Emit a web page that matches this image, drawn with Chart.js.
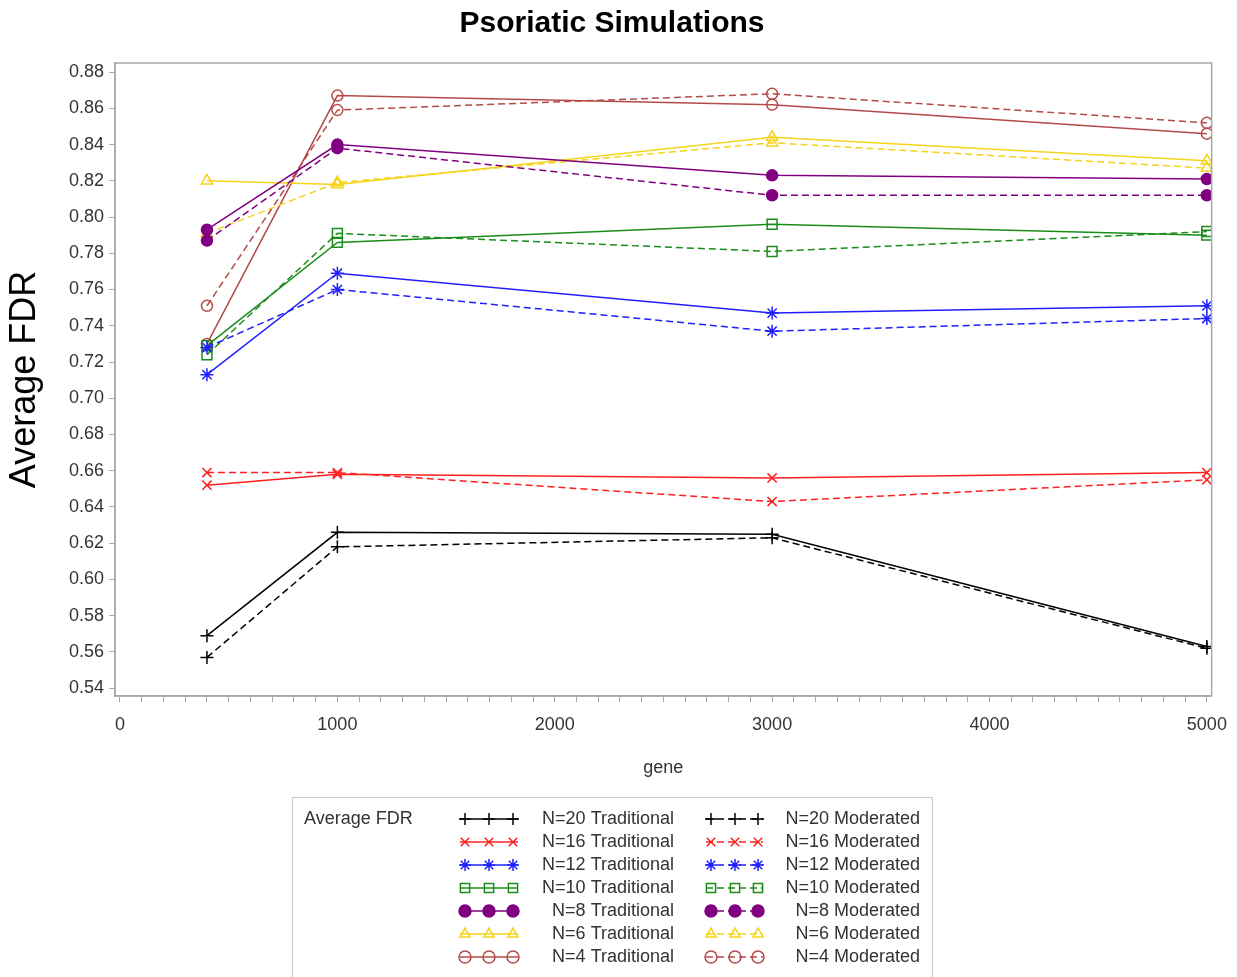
<!DOCTYPE html>
<html><head><meta charset="utf-8">
<script src="https://cdn.jsdelivr.net/npm/chart.js@4.4.1/dist/chart.umd.min.js"></script>
<style>html,body{margin:0;padding:0;background:#fff}canvas{display:block}</style>
</head><body>
<canvas id="c" width="1237" height="977"></canvas>
<script>
// ---- data ----
const genes = [400, 1000, 3000, 5000];
const n20Traditional = [0.569, 0.626, 0.625, 0.563];
const n20Moderated   = [0.557, 0.618, 0.623, 0.562];
const n16Traditional = [0.652, 0.658, 0.656, 0.659];
const n16Moderated   = [0.659, 0.659, 0.643, 0.655];
const n12Traditional = [0.713, 0.769, 0.747, 0.751];
const n12Moderated   = [0.728, 0.760, 0.737, 0.744];
const n10Traditional = [0.729, 0.786, 0.796, 0.790];
const n10Moderated   = [0.724, 0.791, 0.781, 0.792];
const n8Traditional  = [0.793, 0.840, 0.823, 0.821];
const n8Moderated    = [0.787, 0.838, 0.812, 0.812];
const n6Traditional  = [0.820, 0.818, 0.844, 0.831];
const n6Moderated    = [0.791, 0.819, 0.841, 0.827];
const n4Traditional  = [0.730, 0.867, 0.862, 0.846];
const n4Moderated    = [0.751, 0.859, 0.868, 0.852];
const xMajorTicks = [0, 1000, 2000, 3000, 4000, 5000];
const yTicks = [0.54,0.56,0.58,0.60,0.62,0.64,0.66,0.68,0.70,0.72,0.74,0.76,0.78,0.80,0.82,0.84,0.86,0.88];
const groupLabels = ['N=20','N=16','N=12','N=10','N=8','N=6','N=4'];

// ---- styles ----
const FONT = 'Arial, "Liberation Sans", Helvetica, sans-serif';
const TEXT = '#333333';
const AXIS = '#a4a9ae';
const groups = [
  {trad:n20Traditional, mod:n20Moderated, color:'#000000', style:'cross', r:6.5, fill:'#000000'},
  {trad:n16Traditional, mod:n16Moderated, color:'#ff1f1f', style:'crossRot', r:6.5, fill:'#ff1f1f'},
  {trad:n12Traditional, mod:n12Moderated, color:'#1f1fff', style:'star', r:6.5, fill:'#1f1fff'},
  {trad:n10Traditional, mod:n10Moderated, color:'#1a8c1a', style:'rect', r:7, fill:'rgba(0,0,0,0)'},
  {trad:n8Traditional,  mod:n8Moderated,  color:'#800080', style:'circle', r:5.5, fill:'#800080'},
  {trad:n6Traditional,  mod:n6Moderated,  color:'#f5d31a', style:'triangle', r:6.5, fill:'rgba(0,0,0,0)'},
  {trad:n4Traditional,  mod:n4Moderated,  color:'#b24a48', style:'circle', r:5.5, fill:'rgba(0,0,0,0)'}
];
const DASH = [7,4];

const datasets = [];
groups.forEach((g, i) => {
  [['trad', 'Traditional', []], ['mod', 'Moderated', DASH]].forEach(([key, name, dash]) => {
    datasets.push({
      label: groupLabels[i] + ' ' + name,
      kind: key,
      data: genes.map((x, j) => ({x: x, y: g[key][j]})),
      borderColor: g.color,
      backgroundColor: g.fill,
      pointBackgroundColor: g.fill,
      pointBorderColor: g.color,
      pointStyle: g.style,
      pointRadius: g.r,
      pointBorderWidth: 1.5,
      borderWidth: 1.5,
      borderDash: dash,
      tension: 0,
      fill: false
    });
  });
});

const minorTicks = [];
for (let v = 0; v <= 5000; v += 100) minorTicks.push(v);

function drawMarker(ctx, style, x, y, r) {
  if (Chart.helpers && Chart.helpers.drawPoint) {
    Chart.helpers.drawPoint(ctx, {pointStyle: style, radius: r, borderWidth: 1.5, rotation: 0}, x, y);
    return;
  }
  ctx.beginPath(); ctx.arc(x, y, r, 0, Math.PI*2); ctx.fill(); ctx.stroke();
}

const framePlugin = {
  id: 'frame',
  afterDraw(chart) {
    const {ctx, chartArea: a} = chart;
    ctx.save();
    ctx.strokeStyle = AXIS; ctx.lineWidth = 1.5;
    ctx.strokeRect(a.left, a.top, a.right - a.left, a.bottom - a.top);
    ctx.restore();
  }
};

const legendPlugin = {
  id: 'sasLegend',
  afterDraw(chart) {
    const ctx = chart.ctx;
    ctx.save();
    ctx.strokeStyle = '#c8c8c8'; ctx.lineWidth = 1;
    ctx.strokeRect(292.5, 797.5, 640, 200);
    ctx.font = '18px ' + FONT;
    ctx.fillStyle = TEXT;
    ctx.textBaseline = 'middle';
    ctx.textAlign = 'left';
    ctx.fillText('Average FDR', 304, 819);
    const ds = chart.data.datasets;
    const cols = [
      {kind:'trad', x0:460, x1:518, marks:[465,489,513], labelX:674},
      {kind:'mod',  x0:706, x1:763, marks:[711,735,758], labelX:920}
    ];
    cols.forEach(col => {
      const items = ds.filter(d => d.kind === col.kind);
      items.forEach((d, i) => {
        const y = 819 + i * 23;
        ctx.strokeStyle = d.borderColor;
        ctx.lineWidth = 1.5;
        ctx.setLineDash(d.borderDash || []);
        ctx.beginPath(); ctx.moveTo(col.x0, y); ctx.lineTo(col.x1, y); ctx.stroke();
        ctx.setLineDash([]);
        ctx.fillStyle = d.pointBackgroundColor;
        col.marks.forEach(mx => drawMarker(ctx, d.pointStyle, mx, y, d.pointStyle === 'rect' ? 6.5 : 6));
        ctx.fillStyle = TEXT;
        ctx.textAlign = 'right';
        ctx.fillText(d.label, col.labelX, y);
      });
    });
    ctx.restore();
  }
};

new Chart(document.getElementById('c'), {
  type: 'line',
  data: {datasets},
  options: {
    responsive: false,
    animation: false,
    events: [],
    layout: {padding: {left: 12, right: 25, top: 0, bottom: 196}},
    plugins: {
      legend: {display: false},
      tooltip: {enabled: false},
      title: {
        display: true, text: 'Psoriatic Simulations', color: '#000',
        font: {family: FONT, size: 30, weight: 'bold'},
        padding: {top: 6, bottom: 21}
      }
    },
    scales: {
      x: {
        type: 'linear', min: -23, max: 5022,
        afterBuildTicks: s => { s.ticks = minorTicks.map(v => ({value: v})); },
        afterFit: s => { s.height = 85; },
        grid: {drawOnChartArea: false, drawTicks: true, tickLength: 6, color: AXIS, lineWidth: 1},
        border: {display: true, color: AXIS, width: 1.5},
        ticks: {
          autoSkip: false, maxRotation: 0, minRotation: 0, padding: 10,
          color: TEXT, font: {family: FONT, size: 18, lineHeight: 1.5},
          callback: v => xMajorTicks.includes(v) ? String(v) : ''
        },
        title: {display: true, text: 'gene', color: TEXT, font: {family: FONT, size: 18}, padding: {top: 0, bottom: 2.4}}
      },
      y: {
        type: 'linear', min: 0.5357, max: 0.885,
        afterBuildTicks: s => { s.ticks = yTicks.map(v => ({value: v})); },
        afterFit: s => { s.width = 103; },
        grid: {drawOnChartArea: false, drawTicks: true, tickLength: 6, color: AXIS, lineWidth: 1},
        border: {display: true, color: AXIS, width: 1.5},
        ticks: {
          autoSkip: false, padding: 5, color: TEXT, font: {family: FONT, size: 18},
          callback: v => v.toFixed(2)
        },
        title: {display: true, text: 'Average FDR', color: '#000', font: {family: FONT, size: 36}, padding: {top: -8.6, bottom: 0}}
      }
    }
  },
  plugins: [framePlugin, legendPlugin]
});
</script>
</body></html>
